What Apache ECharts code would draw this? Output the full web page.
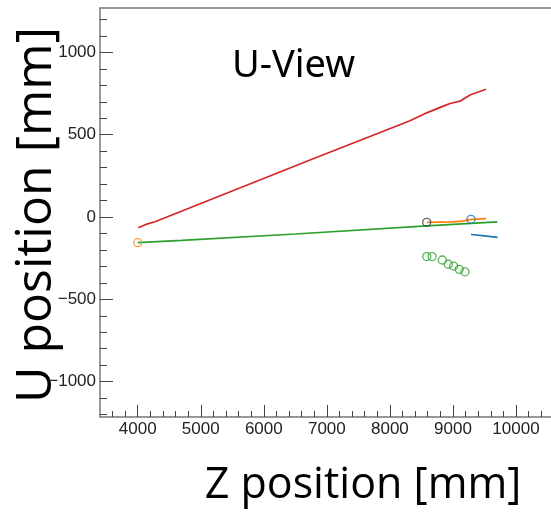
<!DOCTYPE html>
<html><head><meta charset="utf-8">
<script src="https://cdn.jsdelivr.net/npm/echarts@6/dist/echarts.min.js"></script>
<style>html,body{margin:0;padding:0;background:#fff}#c{width:551px;height:512px}</style>
</head><body><div id="c"></div>
<script>
var xMajor = [4000, 5000, 6000, 7000, 8000, 9000, 10000];
var xMinor = [3600,3800,4200,4400,4600,4800,5200,5400,5600,5800,6200,6400,6600,6800,7200,7400,7600,7800,8200,8400,8600,8800,9200,9400,9600,9800,10200,10400];
var yMajor = [-1000, -500, 0, 500, 1000];
var yMinor = [-1200,-1100,-900,-800,-700,-600,-400,-300,-200,-100,100,200,300,400,600,700,800,900,1100,1200];

var redTrack = [[4010,-65],[4130,-45],[4274,-29],[6733,346],[8319,585],[8584,633],[8847,674],[8953,690],[9112,704],[9270,741],[9524,776]];
var greenTrack = [[4000,-156],[4700,-142],[6500,-103],[8584,-54],[9703,-29]];
var orangeTrack = [[8584,-32],[9000,-30],[9150,-25],[9286,-14],[9524,-10]];
var blueTrack = [[9286,-106],[9500,-114],[9708,-124]];
var greenHits = [[8584,-240],[8668,-240],[8831,-261],[8926,-287],[9011,-298],[9100,-318],[9190,-333]];
var orangeVertex = [[4000,-156]];
var blackVertex = [[8584,-32]];
var blueVertex = [[9286,-14]];

var X_MIN = 3402, X_MAX = 10555, Y_MIN = -1215, Y_MAX = 1270;
var labelFont = {color:'#222', fontSize:17, fontFamily:'Liberation Sans'};

function lineS(data, color, w){
  return {type:'line', data:data, xAxisIndex:0, yAxisIndex:0, showSymbol:false, symbol:'none',
    lineStyle:{color:color, width:w}, itemStyle:{color:color}, animation:false, z:3};
}
function circS(data, color){
  return {type:'scatter', data:data, xAxisIndex:0, yAxisIndex:0, symbol:'circle', symbolSize:8,
    itemStyle:{color:'rgba(0,0,0,0)', borderColor:color, borderWidth:1.3}, animation:false, z:4};
}

var chart = echarts.init(document.getElementById('c'), null, {renderer:'canvas'});
chart.setOption({
  backgroundColor:'#fff',
  animation:false,
  grid:{left:100, right:0, top:8, bottom:95, containLabel:false},
  xAxis:[
    {type:'value', min:X_MIN, max:X_MAX, position:'bottom',
     axisLine:{show:true, onZero:false, lineStyle:{color:'#777', width:1.5}},
     axisTick:{show:true, inside:true, length:12, customValues:xMajor, lineStyle:{color:'#444'}},
     axisLabel:Object.assign({show:true, margin:4, customValues:xMajor,
       formatter:function(v){return String(v);}}, labelFont),
     splitLine:{show:false}},
    {type:'value', min:X_MIN, max:X_MAX, position:'bottom',
     axisLine:{show:false, onZero:false},
     axisTick:{show:true, inside:true, length:6, customValues:xMinor, lineStyle:{color:'#444'}},
     axisLabel:{show:false}, splitLine:{show:false}},
    {type:'value', min:X_MIN, max:X_MAX, position:'top',
     axisLine:{show:true, onZero:false, lineStyle:{color:'#777', width:1.5}},
     axisTick:{show:false}, axisLabel:{show:false}, splitLine:{show:false}}
  ],
  yAxis:[
    {type:'value', min:Y_MIN, max:Y_MAX, position:'left',
     axisLine:{show:true, onZero:false, lineStyle:{color:'#777', width:1.5}},
     axisTick:{show:true, inside:true, length:13, customValues:yMajor, lineStyle:{color:'#444'}},
     axisLabel:Object.assign({show:true, margin:4, customValues:yMajor,
       formatter:function(v){return v<0 ? '\u2212'+Math.abs(v) : String(v);}}, labelFont),
     splitLine:{show:false}},
    {type:'value', min:Y_MIN, max:Y_MAX, position:'left',
     axisLine:{show:false, onZero:false},
     axisTick:{show:true, inside:true, length:7, customValues:yMinor, lineStyle:{color:'#444'}},
     axisLabel:{show:false}, splitLine:{show:false}}
  ],
  series:[
    lineS(redTrack, '#d62728', 1.7),
    lineS(greenTrack, '#2ca02c', 1.7),
    lineS(orangeTrack, '#ff7f0e', 1.7),
    lineS(blueTrack, '#1f77b4', 1.7),
    circS(greenHits, '#2ca02c'),
    circS(orangeVertex, '#ff7f0e'),
    circS(blackVertex, '#3a3a4a'),
    circS(blueVertex, '#1f77b4')
  ],
  graphic:[
    {type:'text', style:{x:232, y:66, text:'U-View', font:'38px "Noto Sans"', fill:'#000', textAlign:'left', textVerticalAlign:'middle'}},
    {type:'text', style:{x:363, y:486, text:'Z position [mm]', font:'43px "Open Sans"', fill:'#000', textAlign:'center', textVerticalAlign:'middle'}},
    {type:'text', x:37, y:215, rotation:Math.PI/2, style:{x:0, y:0, text:'U position [mm]', font:'50px "Open Sans"', fill:'#000', textAlign:'center', textVerticalAlign:'middle'}}
  ]
});
</script></body></html>
